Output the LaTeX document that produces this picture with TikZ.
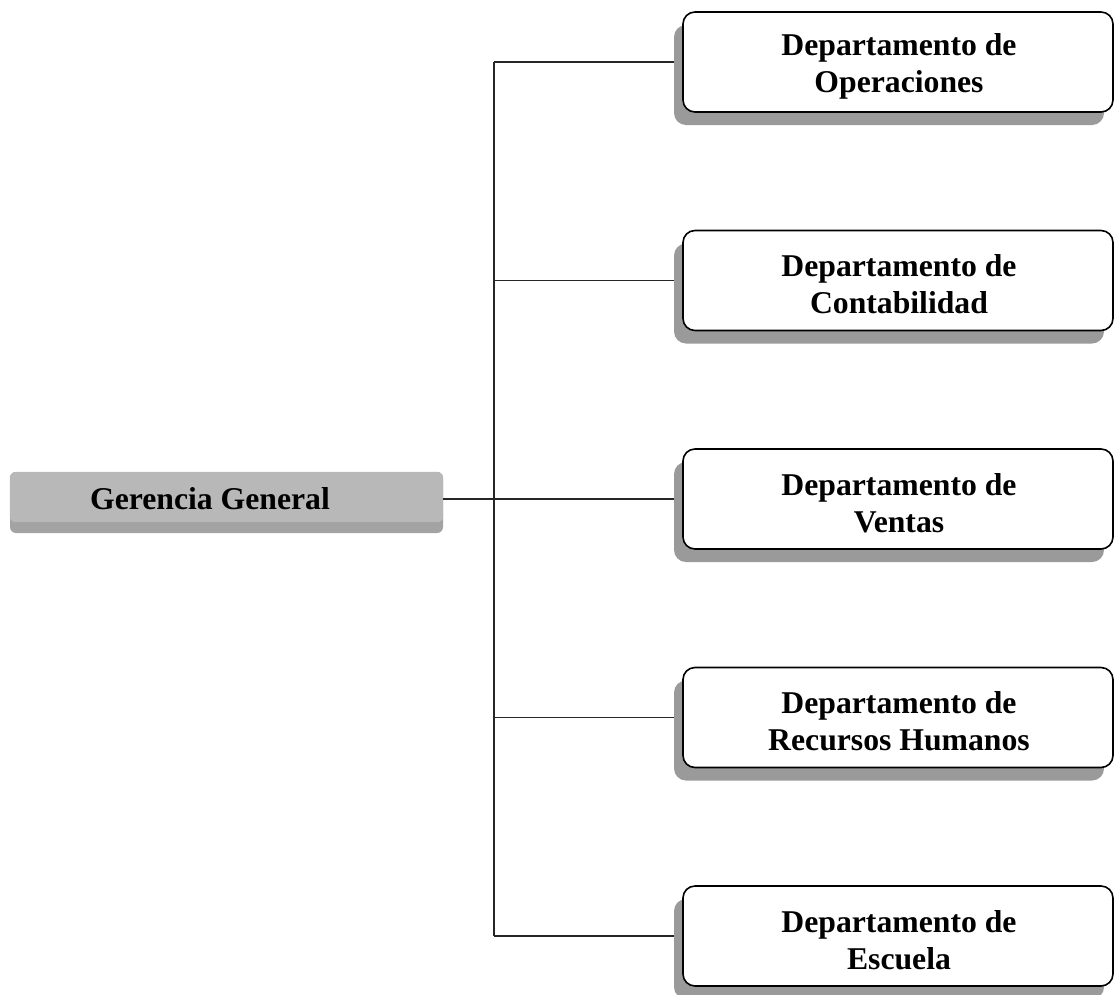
\documentclass[tikz,border=0pt]{standalone}
\usepackage{fontspec}
\setmainfont{Liberation Serif}
\definecolor{shadowgray}{HTML}{9A9A9A}
\definecolor{gglight}{HTML}{B8B8B8}
\definecolor{ggdark}{HTML}{A3A3A3}
\tikzset{
  txt/.style={font=\fontsize{31.7}{37}\selectfont\bfseries, align=center},
  dept/.style={txt, draw=black, line width=1.6pt, fill=white, rounded corners=12pt,
    minimum width=430pt, minimum height=100pt, inner sep=0pt},
  deptshadow/.style={fill=shadowgray, rounded corners=12pt,
    minimum width=430pt, minimum height=100pt, inner sep=0pt},
  ggbox/.style={fill=ggdark, rounded corners=6pt, minimum width=433pt,
    minimum height=61pt, inner sep=0pt},
  conn/.style={draw=black!85, line width=1.5pt},
}
\begin{document}
\begin{tikzpicture}[x=1pt,y=-1pt]
\useasboundingbox (0,0) rectangle (1114,994);
% bus coordinates
\coordinate (top) at (494,62);
\coordinate (bot) at (494,936);
% Gerencia General
\node[ggbox] (ggshape) at (226.5,502.5) {};
\fill[gglight, rounded corners=6pt] (ggshape.north west) rectangle ([yshift=11pt]ggshape.south east);
\node[txt] (gg) at (210,499) {Gerencia General};
% departments
\foreach \n/\y/\t in {1/62/{Departamento de\\Operaciones},
                      2/280.5/{Departamento de\\Contabilidad},
                      3/499/{Departamento de\\Ventas},
                      4/717.5/{Departamento de\\Recursos Humanos},
                      5/936/{Departamento de\\Escuela}}{
  \node[deptshadow] (s\n) at (889,\y+13) {};
  \node[dept] (d\n) at (898,\y) {};
  \node[txt] (t\n) at (899,\y+4) {\t};
}
% connectors
\draw[conn] (ggshape.east |- gg) -- (gg -| top);
\draw[conn] (top) -- (bot);
\foreach \n in {1,...,5}{
  \draw[conn] (d\n.west -| top) -- (d\n.west -| s\n.west);
}
\end{tikzpicture}
\end{document}
